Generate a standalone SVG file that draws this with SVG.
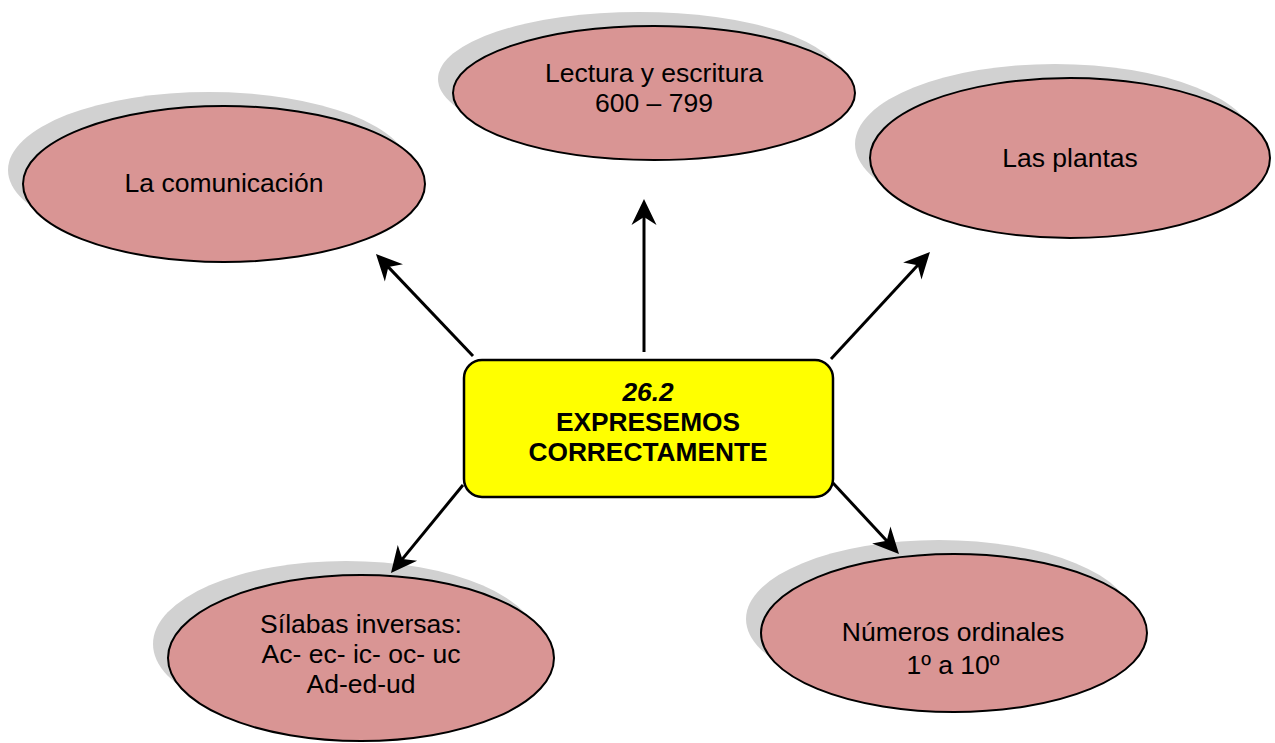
<svg xmlns="http://www.w3.org/2000/svg" width="1275" height="743" viewBox="0 0 1275 743">
<style>
.shadow{fill:#d1d1d1;stroke:none}
.oval{fill:#d99594;stroke:#000;stroke-width:2}
.lbl{font-family:"Liberation Sans",Arial,sans-serif;font-size:26.5px;fill:#000;text-anchor:middle}
.title{font-family:"Liberation Sans",Arial,sans-serif;font-size:26.3px;font-weight:bold;fill:#000;text-anchor:middle}
.conn{stroke:#000;stroke-width:3;fill:none;marker-end:url(#arrow)}
</style>
<defs>
<marker id="arrow" markerUnits="userSpaceOnUse" markerWidth="40" markerHeight="40" refX="10" refY="0" orient="auto" overflow="visible">
<path d="M0,-12.5 L26,0 L0,12.5 L8,0 Z" fill="#000"/>
</marker>
</defs>
<rect width="1275" height="743" fill="#fff"/>
<g id="node-comunicacion">
<ellipse class="shadow" cx="209" cy="170" rx="201" ry="78"/>
<ellipse class="oval" cx="224" cy="184" rx="201" ry="78"/>
<text class="lbl" x="224" y="192">La comunicación</text>
</g>
<g id="node-lectura">
<ellipse class="shadow" cx="639" cy="79" rx="201" ry="67"/>
<ellipse class="oval" cx="654" cy="93" rx="201" ry="67"/>
<text class="lbl" x="654" y="82">Lectura y escritura</text>
<text class="lbl" x="654" y="112">600 – 799</text>
</g>
<g id="node-plantas">
<ellipse class="shadow" cx="1055" cy="144" rx="200" ry="80"/>
<ellipse class="oval" cx="1070" cy="158" rx="200" ry="80"/>
<text class="lbl" x="1070" y="167">Las plantas</text>
</g>
<g id="node-silabas">
<ellipse class="shadow" cx="346" cy="644" rx="193" ry="83"/>
<ellipse class="oval" cx="361" cy="658" rx="193" ry="83"/>
<text class="lbl" x="361" y="633">Sílabas inversas:</text>
<text class="lbl" x="361" y="663">Ac- ec- ic- oc- uc</text>
<text class="lbl" x="361" y="693">Ad-ed-ud</text>
</g>
<g id="node-numeros">
<ellipse class="shadow" cx="939" cy="619" rx="193" ry="79"/>
<ellipse class="oval" cx="954" cy="633" rx="193" ry="79"/>
<text class="lbl" x="953" y="641">Números ordinales</text>
<text class="lbl" x="953" y="674">1º a 10º</text>
</g>
<g id="connectors">
<line class="conn" x1="473" y1="356" x2="387" y2="265.6"/>
<line class="conn" x1="644" y1="352" x2="644" y2="215"/>
<line class="conn" x1="831" y1="359" x2="919.1" y2="263.7"/>
<line class="conn" x1="463" y1="485" x2="401.1" y2="560.6"/>
<line class="conn" x1="833" y1="483" x2="888.1" y2="542.3"/>
</g>
<g id="node-center">
<rect x="464" y="360" width="369" height="137" rx="18" ry="18" fill="#ffff00" stroke="#000" stroke-width="2.5"/>
<text class="title" x="648" y="401" font-style="italic">26.2</text>
<text class="title" x="648" y="431">EXPRESEMOS</text>
<text class="title" x="648" y="461">CORRECTAMENTE</text>
</g>
</svg>
